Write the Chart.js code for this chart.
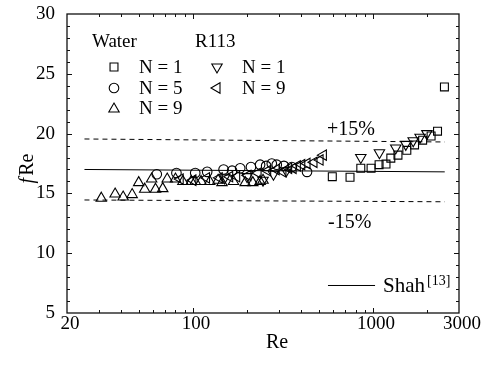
<!DOCTYPE html>
<html>
<head>
<meta charset="utf-8">
<script src="https://cdn.jsdelivr.net/npm/chart.js@4.4.1/dist/chart.umd.min.js"></script>
<style>
  html, body { margin: 0; padding: 0; background: #fff; }
</style>
</head>
<body>
<canvas id="c" width="488" height="368"></canvas>
<script>
// tick values
const xTickLabels = [20, 100, 1000, 3000];
const xMinorTicks = [30, 40, 50, 60, 70, 80, 90, 100, 200, 300, 400, 500, 600, 700, 800, 900, 1000, 2000];
const yTickLabels = [5, 10, 15, 20, 25, 30];

// [Re, fRe]
const waterN1 = [[594, 16.4], [745, 16.35], [855, 17.1], [975, 17.1], [1080, 17.4], [1180, 17.45],
  [1255, 17.95], [1375, 18.2], [1540, 18.6], [1700, 19.05], [1885, 19.45], [2100, 19.8], [2280, 20.2], [2490, 23.9]];
const waterN5 = [[63, 16.6], [81, 16.7], [103, 16.7], [120, 16.8], [148, 17.0], [165, 16.9], [183, 17.1],
  [210, 17.2], [236, 17.4], [255, 17.3], [274, 17.5], [292, 17.4], [320, 17.3], [354, 17.2], [430, 16.8]];
const waterN9 = [[31, 14.6], [37, 14.95], [41, 14.7], [46, 14.9], [50, 15.9], [54, 15.35], [59, 16.2],
  [62, 15.35], [68, 15.4], [72, 16.2], [80, 16.2], [88, 16.0], [98, 16.0], [103, 16.0], [111, 16.0],
  [124, 16.0], [138, 16.1], [145, 15.9], [168, 16.0], [195, 15.9], [215, 15.9], [236, 16.0], [245, 16.1]];
const r113N1 = [[150, 16.3], [200, 16.4], [245, 16.1], [280, 16.6], [330, 16.9],
  [855, 18.0], [1085, 18.4], [1337, 18.8], [1520, 19.1], [1670, 19.4], [1825, 19.7], [1990, 20.0]];
const r113N9 = [[85, 16.2], [100, 16.1], [119, 16.3], [140, 16.3], [160, 16.4], [175, 16.4], [202, 16.5],
  [230, 16.7], [260, 16.9], [290, 17.0], [316, 16.8], [340, 17.1], [360, 17.1], [380, 17.3], [402, 17.4],
  [430, 17.5], [470, 17.6], [508, 17.8], [530, 18.2]];
const shahLine = [[25, 17.0], [2500, 16.8]];
const plus15 = [[25, 19.55], [2500, 19.3]];
const minus15 = [[25, 14.45], [2500, 14.3]];

const FONT = "'Liberation Serif', 'DejaVu Serif', serif";
const toXY = arr => arr.map(p => ({ x: p[0], y: p[1] }));

function markers(data, style, radius, rotation) {
  return {
    data: toXY(data),
    pointStyle: style,
    rotation: rotation || 0,
    pointRadius: radius,
    pointHoverRadius: radius,
    pointBorderWidth: 1.1,
    borderColor: '#000',
    backgroundColor: 'rgba(0,0,0,0)',
    showLine: false
  };
}

function refLine(data, dash) {
  return {
    data: toXY(data),
    showLine: true,
    borderColor: '#000',
    borderWidth: 1,
    borderDash: dash,
    pointRadius: 0,
    fill: false
  };
}

// no label overhang padding, keep the plot box where the figure has it
function noPad(s) {
  s.paddingTop = 0; s.paddingBottom = 0; s.paddingLeft = 0; s.paddingRight = 0;
}

// frame with inward ticks on all four sides
const frameTicks = {
  id: 'frameTicks',
  afterDatasetsDraw(chart) {
    const { ctx, chartArea: a, scales: { x, y } } = chart;
    ctx.save();
    ctx.strokeStyle = '#111';
    ctx.lineWidth = 1.3;
    ctx.strokeRect(a.left, a.top, a.right - a.left, a.bottom - a.top);
    ctx.lineWidth = 1;
    ctx.beginPath();
    xMinorTicks.forEach(v => {
      const px = Math.round(x.getPixelForValue(v)) + 0.5;
      const len = xTickLabels.includes(v) ? 5 : 3;
      ctx.moveTo(px, a.bottom); ctx.lineTo(px, a.bottom - len);
      ctx.moveTo(px, a.top); ctx.lineTo(px, a.top + len);
    });
    for (let v = 6; v < 30; v++) {
      const py = Math.round(y.getPixelForValue(v)) + 0.5;
      const len = v % 5 === 0 ? 5 : 3;
      ctx.moveTo(a.left, py); ctx.lineTo(a.left + len, py);
      ctx.moveTo(a.right, py); ctx.lineTo(a.right - len, py);
    }
    ctx.stroke();
    ctx.restore();
  }
};

function point(ctx, style, r, rot, px, py) {
  ctx.save();
  ctx.fillStyle = 'rgba(0,0,0,0)';
  ctx.lineWidth = 1.1;
  ctx.beginPath();
  Chart.helpers.drawPoint(ctx, { pointStyle: style, radius: r, rotation: rot || 0, borderWidth: 1.1 }, px, py);
  ctx.restore();
}

// legend, annotations, axis titles
const labels = {
  id: 'labels',
  afterDraw(chart) {
    const { ctx, chartArea: a, scales: { x, y } } = chart;
    ctx.save();
    ctx.fillStyle = '#000';
    ctx.strokeStyle = '#000';
    ctx.lineWidth = 1;
    ctx.textBaseline = 'alphabetic';
    ctx.textAlign = 'left';
    ctx.font = '19px ' + FONT;

    const L = a.left, T = a.top;
    ctx.fillText('Water', L + 25, T + 33);
    ctx.fillText('R113', L + 128, T + 33);
    ctx.fillText('N = 1', L + 72, T + 59);
    ctx.fillText('N = 5', L + 72, T + 80);
    ctx.fillText('N = 9', L + 72, T + 100);
    ctx.fillText('N = 1', L + 175, T + 59);
    ctx.fillText('N = 9', L + 175, T + 80);
    point(ctx, 'rect', 5.6, 0, L + 47, T + 53);
    point(ctx, 'circle', 4.8, 0, L + 47, T + 74);
    point(ctx, 'triangle', 6, 0, L + 47, T + 95);
    point(ctx, 'triangle', 6, 180, L + 150, T + 53);
    point(ctx, 'triangle', 6, 270, L + 150, T + 74);

    ctx.fillStyle = '#000';
    ctx.font = '20px ' + FONT;
    ctx.fillText('+15%', x.getPixelForValue(555), y.getPixelForValue(20.4) + 6);
    ctx.fillText('-15%', x.getPixelForValue(562), y.getPixelForValue(12.65) + 6);

    const sy = y.getPixelForValue(7.3);
    ctx.beginPath();
    ctx.moveTo(x.getPixelForValue(562), sy);
    ctx.lineTo(x.getPixelForValue(1026), sy);
    ctx.stroke();
    ctx.font = '21px ' + FONT;
    const shx = x.getPixelForValue(1137);
    ctx.fillText('Shah', shx, sy + 7);
    const shw = ctx.measureText('Shah').width;
    ctx.font = '14px ' + FONT;
    ctx.fillText('[13]', shx + shw + 2, sy - 0.5);

    ctx.font = '20px ' + FONT;
    ctx.textAlign = 'center';
    ctx.fillText('Re', (a.left + a.right) / 2 + 14, 348);

    ctx.translate(33, (a.top + a.bottom) / 2 + 5);
    ctx.rotate(-Math.PI / 2);
    ctx.textAlign = 'left';
    ctx.font = 'italic 20px ' + FONT;
    const fw = ctx.measureText('f').width;
    ctx.font = '20px ' + FONT;
    const rw = ctx.measureText('Re').width;
    const start = -(fw + rw + 2) / 2;
    ctx.font = 'italic 20px ' + FONT;
    ctx.fillText('f', start, 0);
    ctx.font = '20px ' + FONT;
    ctx.fillText('Re', start + fw + 2, 0);
    ctx.restore();
  }
};

new Chart(document.getElementById('c'), {
  type: 'scatter',
  data: {
    datasets: [
      refLine(plus15, [5, 4]),
      refLine(minus15, [5, 4]),
      refLine(shahLine, []),
      markers(waterN9, 'triangle', 6),
      markers(waterN5, 'circle', 4.8),
      markers(r113N9, 'triangle', 6, 270),
      markers(r113N1, 'triangle', 6, 180),
      markers(waterN1, 'rect', 5.6)
    ]
  },
  options: {
    responsive: false,
    animation: false,
    layout: { padding: { top: 14, right: 29, left: 0, bottom: 0 } },
    plugins: { legend: { display: false }, tooltip: { enabled: false } },
    scales: {
      x: {
        type: 'logarithmic',
        min: 20,
        max: 3000,
        grid: { display: false, drawTicks: false },
        border: { display: false },
        afterBuildTicks: s => { s.ticks = xTickLabels.map(v => ({ value: v })); },
        afterFit: s => { s.height = 55; noPad(s); },
        ticks: {
          color: '#000',
          font: { family: FONT, size: 19 },
          padding: 0,
          labelOffset: 3,
          maxRotation: 0,
          autoSkip: false,
          callback: v => String(v)
        }
      },
      y: {
        type: 'linear',
        min: 5,
        max: 30,
        grid: { display: false, drawTicks: false },
        border: { display: false },
        afterBuildTicks: s => { s.ticks = yTickLabels.map(v => ({ value: v })); },
        afterFit: s => { s.width = 67; noPad(s); },
        ticks: {
          color: '#000',
          font: { family: FONT, size: 19 },
          padding: 12
        }
      }
    }
  },
  plugins: [frameTicks, labels]
});
</script>
</body>
</html>
